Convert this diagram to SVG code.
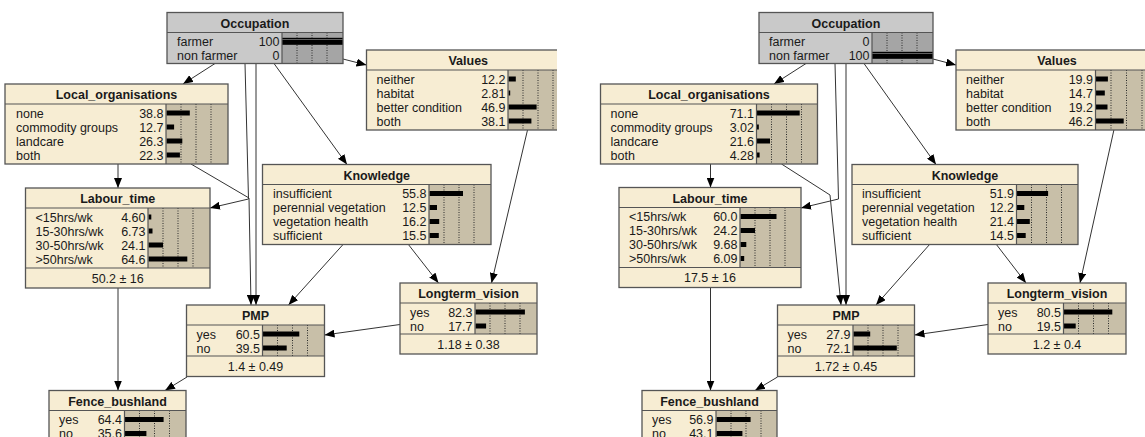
<svg xmlns="http://www.w3.org/2000/svg" width="1145" height="437" viewBox="0 0 1145 437">
<defs>
<style>
.bg{fill:#f7edd3}
.gbg{fill:#c9c9c9}
.bb{fill:#c8bfa8}
.gbb{fill:#a5a5a5}
.grid{stroke:#2a2a2a;stroke-width:1;stroke-dasharray:1 1.5;fill:none}
.bar{fill:#000}
.sep{stroke:#555;stroke-width:1.2;fill:none}
.bd{fill:none;stroke:#555;stroke-width:1.3}
text{font-family:"Liberation Sans",Arial,sans-serif;font-size:12.5px;fill:#1a1a1a}
.t{font-weight:bold;text-anchor:middle}
.n{text-anchor:end}
.m{text-anchor:middle}
.c{fill:none;stroke:#333;stroke-width:1}
</style>
<marker id="arr" viewBox="0 0 10 8" refX="10" refY="4" markerWidth="10" markerHeight="8" markerUnits="userSpaceOnUse" orient="auto"><path d="M0,0L10,4L0,8z" fill="#000"/></marker>
<clipPath id="lclip"><rect x="0" y="0" width="557" height="437"/></clipPath>
</defs>
<rect width="1145" height="437" fill="#fff"/>

<!-- LEFT PANEL connectors -->
<g id="connectors-left" class="c" marker-end="url(#arr)">
<path d="M215,63.5L183,84"/>
<path d="M343,59L366.5,65"/>
<path d="M274,63.5L347,164.5"/>
<path d="M256,63.5L256,305"/>
<path d="M245,63.5L248.5,199L210,208"/>
<path d="M191,164L249,198L251,305"/>
<path d="M118,164L118,188"/>
<path d="M118,288L118,390.5"/>
<path d="M187,377L165,390.5"/>
<path d="M343.5,244L288.5,305"/>
<path d="M408,244L438.5,283"/>
<path d="M527.5,130L491.5,283"/>
<path d="M400,324.5L324.5,335"/>
</g>

<g id="L-occupation" transform="translate(167,12.5)">
<rect class="gbg" width="176" height="51"/>
<rect class="gbb" x="115" y="20" width="61" height="31"/>
<path class="grid" d="M130,20v31M145,20v31M160,20v31"/>
<rect class="bar" x="115" y="25.3" width="61" height="7"/>
<path d="M115,27h61" stroke="#777" stroke-width="0.8"/>
<text class="t" x="88" y="15">Occupation</text>
<text x="10" y="33.5">farmer</text><text class="n" x="112.5" y="33.5">100</text>
<text x="10" y="47.5">non farmer</text><text class="n" x="112.5" y="47.5">0</text>
<path class="sep" d="M0,20H176M115,20V51"/>
<rect class="bd" width="176" height="51"/>
</g>

<g id="L-values" clip-path="url(#lclip)">
<g transform="translate(366.5,50)">
<rect class="bg" width="203.5" height="80"/>
<rect class="bb" x="141.5" y="20" width="62" height="60"/>
<path class="grid" d="M156.5,20v60M171.5,20v60M186.5,20v60"/>
<rect class="bar" x="142" y="26.5" width="7.3" height="5"/>
<rect class="bar" x="142" y="40.5" width="1.7" height="5"/>
<rect class="bar" x="142" y="54.5" width="28.1" height="5"/>
<rect class="bar" x="142" y="68.5" width="22.9" height="5"/>
<text class="t" x="101.75" y="15">Values</text>
<text x="10" y="33.5">neither</text><text class="n" x="139" y="33.5">12.2</text>
<text x="10" y="47.5">habitat</text><text class="n" x="139" y="47.5">2.81</text>
<text x="10" y="61.5">better condition</text><text class="n" x="139" y="61.5">46.9</text>
<text x="10" y="75.5">both</text><text class="n" x="139" y="75.5">38.1</text>
<path class="sep" d="M0,20H203.5M141.5,20V80"/>
<rect class="bd" width="203.5" height="80"/>
</g>
</g>

<g id="L-local" transform="translate(5,84)">
<rect class="bg" width="223" height="80"/>
<rect class="bb" x="161" y="20" width="62" height="60"/>
<path class="grid" d="M176,20v60M191,20v60M206,20v60"/>
<rect class="bar" x="161.5" y="26.5" width="23.3" height="5"/>
<rect class="bar" x="161.5" y="40.5" width="7.6" height="5"/>
<rect class="bar" x="161.5" y="54.5" width="15.8" height="5"/>
<rect class="bar" x="161.5" y="68.5" width="13.4" height="5"/>
<text class="t" x="111.5" y="15">Local_organisations</text>
<text x="11" y="33.5">none</text><text class="n" x="158.5" y="33.5">38.8</text>
<text x="11" y="47.5">commodity groups</text><text class="n" x="158.5" y="47.5">12.7</text>
<text x="11" y="61.5">landcare</text><text class="n" x="158.5" y="61.5">26.3</text>
<text x="11" y="75.5">both</text><text class="n" x="158.5" y="75.5">22.3</text>
<path class="sep" d="M0,20H223M161,20V80"/>
<rect class="bd" width="223" height="80"/>
</g>

<g id="L-labour" transform="translate(25.5,188)">
<rect class="bg" width="184.5" height="100"/>
<rect class="bb" x="122.5" y="20" width="62" height="60"/>
<path class="grid" d="M137.5,20v60M152.5,20v60M167.5,20v60"/>
<rect class="bar" x="123" y="26.5" width="2.8" height="5"/>
<rect class="bar" x="123" y="40.5" width="4" height="5"/>
<rect class="bar" x="123" y="54.5" width="14.5" height="5"/>
<rect class="bar" x="123" y="68.5" width="38.8" height="5"/>
<text class="t" x="92.25" y="15">Labour_time</text>
<text x="10" y="33.5">&lt;15hrs/wk</text><text class="n" x="120" y="33.5">4.60</text>
<text x="10" y="47.5">15-30hrs/wk</text><text class="n" x="120" y="47.5">6.73</text>
<text x="10" y="61.5">30-50hrs/wk</text><text class="n" x="120" y="61.5">24.1</text>
<text x="10" y="75.5">&gt;50hrs/wk</text><text class="n" x="120" y="75.5">64.6</text>
<text class="m" x="92.25" y="94.5">50.2 ± 16</text>
<path class="sep" d="M0,20H184.5M0,80H184.5M122.5,20V80"/>
<rect class="bd" width="184.5" height="100"/>
</g>

<g id="L-knowledge" transform="translate(262.5,164.5)">
<rect class="bg" width="228.5" height="80"/>
<rect class="bb" x="166.5" y="20" width="62" height="60"/>
<path class="grid" d="M181.5,20v60M196.5,20v60M211.5,20v60"/>
<rect class="bar" x="167" y="26.5" width="33.5" height="5"/>
<rect class="bar" x="167" y="40.5" width="7.5" height="5"/>
<rect class="bar" x="167" y="54.5" width="9.7" height="5"/>
<rect class="bar" x="167" y="68.5" width="9.3" height="5"/>
<text class="t" x="114.25" y="15">Knowledge</text>
<text x="10.5" y="33.5">insufficient</text><text class="n" x="164" y="33.5">55.8</text>
<text x="10.5" y="47.5">perennial vegetation</text><text class="n" x="164" y="47.5">12.5</text>
<text x="10.5" y="61.5">vegetation health</text><text class="n" x="164" y="61.5">16.2</text>
<text x="10.5" y="75.5">sufficient</text><text class="n" x="164" y="75.5">15.5</text>
<path class="sep" d="M0,20H228.5M166.5,20V80"/>
<rect class="bd" width="228.5" height="80"/>
</g>

<g id="L-pmp" transform="translate(186.5,305)">
<rect class="bg" width="138" height="71.5"/>
<rect class="bb" x="76" y="20" width="62" height="31"/>
<path class="grid" d="M91,20v31M106,20v31M121,20v31"/>
<rect class="bar" x="76.5" y="26.5" width="36.3" height="5"/>
<rect class="bar" x="76.5" y="40.5" width="23.7" height="5"/>
<text class="t" x="69" y="15">PMP</text>
<text x="10" y="33.5">yes</text><text class="n" x="73.5" y="33.5">60.5</text>
<text x="10" y="47.5">no</text><text class="n" x="73.5" y="47.5">39.5</text>
<text class="m" x="69" y="66">1.4 ± 0.49</text>
<path class="sep" d="M0,20H138M0,51H138M76,20V51"/>
<rect class="bd" width="138" height="71.5"/>
</g>

<g id="L-longterm" transform="translate(400,283)">
<rect class="bg" width="137" height="71"/>
<rect class="bb" x="75" y="20" width="62" height="31"/>
<path class="grid" d="M90,20v31M105,20v31M120,20v31"/>
<rect class="bar" x="75.5" y="26.5" width="49.4" height="5"/>
<rect class="bar" x="75.5" y="40.5" width="10.6" height="5"/>
<text class="t" x="68.5" y="15">Longterm_vision</text>
<text x="10" y="33.5">yes</text><text class="n" x="72.5" y="33.5">82.3</text>
<text x="10" y="47.5">no</text><text class="n" x="72.5" y="47.5">17.7</text>
<text class="m" x="68.5" y="65.5">1.18 ± 0.38</text>
<path class="sep" d="M0,20H137M0,51H137M75,20V51"/>
<rect class="bd" width="137" height="71"/>
</g>

<g id="L-fence" transform="translate(49,390.5)">
<rect class="bg" width="137" height="71"/>
<rect class="bb" x="75.5" y="20" width="61.5" height="31"/>
<path class="grid" d="M90.5,20v31M105.5,20v31M120.5,20v31"/>
<rect class="bar" x="76" y="26.5" width="38.6" height="5"/>
<rect class="bar" x="76" y="40.5" width="21.4" height="5"/>
<text class="t" x="68.5" y="15">Fence_bushland</text>
<text x="10" y="33.5">yes</text><text class="n" x="73" y="33.5">64.4</text>
<text x="10" y="47.5">no</text><text class="n" x="73" y="47.5">35.6</text>
<path class="sep" d="M0,20H137M75.5,20V51"/>
<rect class="bd" width="137" height="71"/>
</g>

<!-- RIGHT PANEL connectors -->
<g id="connectors-right" class="c" marker-end="url(#arr)">
<path d="M806,63.5L774,84"/>
<path d="M933,59L956,65"/>
<path d="M864,63.5L936,164.5"/>
<path d="M846,63.5L846,305"/>
<path d="M835,63.5L838.5,199L801,208"/>
<path d="M781.5,164L830,195L841,305"/>
<path d="M710.5,164L710.5,187.5"/>
<path d="M710.5,287.5L710.5,390.5"/>
<path d="M777.5,377L755,390.5"/>
<path d="M930,244L876,305"/>
<path d="M996,244L1026,283"/>
<path d="M1114,129.5L1080,283"/>
<path d="M988,324.5L914.5,335"/>
</g>

<g id="R-occupation" transform="translate(759,12.5)">
<rect class="gbg" width="174" height="51"/>
<rect class="gbb" x="113" y="20" width="61" height="31"/>
<path class="grid" d="M128,20v31M143,20v31M158,20v31"/>
<rect class="bar" x="113" y="39.3" width="61" height="7"/>
<path d="M113,41h61" stroke="#777" stroke-width="0.8"/>
<text class="t" x="87" y="15">Occupation</text>
<text x="10" y="33.5">farmer</text><text class="n" x="110.5" y="33.5">0</text>
<text x="10" y="47.5">non farmer</text><text class="n" x="110.5" y="47.5">100</text>
<path class="sep" d="M0,20H174M113,20V51"/>
<rect class="bd" width="174" height="51"/>
</g>

<g id="R-values" transform="translate(956,50)">
<rect class="bg" width="202" height="80"/>
<rect class="bb" x="139.5" y="20" width="62.5" height="60"/>
<path class="grid" d="M155,20v60M170.5,20v60M186,20v60"/>
<rect class="bar" x="140" y="26.5" width="11.9" height="5"/>
<rect class="bar" x="140" y="40.5" width="8.8" height="5"/>
<rect class="bar" x="140" y="54.5" width="11.5" height="5"/>
<rect class="bar" x="140" y="68.5" width="27.7" height="5"/>
<text class="t" x="101" y="15">Values</text>
<text x="10" y="33.5">neither</text><text class="n" x="137" y="33.5">19.9</text>
<text x="10" y="47.5">habitat</text><text class="n" x="137" y="47.5">14.7</text>
<text x="10" y="61.5">better condition</text><text class="n" x="137" y="61.5">19.2</text>
<text x="10" y="75.5">both</text><text class="n" x="137" y="75.5">46.2</text>
<path class="sep" d="M0,20H202M139.5,20V80"/>
<rect class="bd" width="202" height="80"/>
</g>

<g id="R-local" transform="translate(600.5,84)">
<rect class="bg" width="217" height="80"/>
<rect class="bb" x="156" y="20" width="61" height="60"/>
<path class="grid" d="M171,20v60M186,20v60M201,20v60"/>
<rect class="bar" x="156.5" y="26.5" width="42.7" height="5"/>
<rect class="bar" x="156.5" y="40.5" width="1.8" height="5"/>
<rect class="bar" x="156.5" y="54.5" width="13" height="5"/>
<rect class="bar" x="156.5" y="68.5" width="2.6" height="5"/>
<text class="t" x="108.5" y="15">Local_organisations</text>
<text x="10" y="33.5">none</text><text class="n" x="153.5" y="33.5">71.1</text>
<text x="10" y="47.5">commodity groups</text><text class="n" x="153.5" y="47.5">3.02</text>
<text x="10" y="61.5">landcare</text><text class="n" x="153.5" y="61.5">21.6</text>
<text x="10" y="75.5">both</text><text class="n" x="153.5" y="75.5">4.28</text>
<path class="sep" d="M0,20H217M156,20V80"/>
<rect class="bd" width="217" height="80"/>
</g>

<g id="R-labour" transform="translate(619,187.5)">
<rect class="bg" width="182" height="100"/>
<rect class="bb" x="121" y="20" width="61" height="60"/>
<path class="grid" d="M136,20v60M151,20v60M166,20v60"/>
<rect class="bar" x="121.5" y="26.5" width="36" height="5"/>
<rect class="bar" x="121.5" y="40.5" width="14.5" height="5"/>
<rect class="bar" x="121.5" y="54.5" width="5.8" height="5"/>
<rect class="bar" x="121.5" y="68.5" width="3.7" height="5"/>
<text class="t" x="91" y="15">Labour_time</text>
<text x="10" y="33.5">&lt;15hrs/wk</text><text class="n" x="118.5" y="33.5">60.0</text>
<text x="10" y="47.5">15-30hrs/wk</text><text class="n" x="118.5" y="47.5">24.2</text>
<text x="10" y="61.5">30-50hrs/wk</text><text class="n" x="118.5" y="61.5">9.68</text>
<text x="10" y="75.5">&gt;50hrs/wk</text><text class="n" x="118.5" y="75.5">6.09</text>
<text class="m" x="91" y="94.5">17.5 ± 16</text>
<path class="sep" d="M0,20H182M0,80H182M121,20V80"/>
<rect class="bd" width="182" height="100"/>
</g>

<g id="R-knowledge" transform="translate(852,164.5)">
<rect class="bg" width="226" height="80"/>
<rect class="bb" x="164.5" y="20" width="61.5" height="60"/>
<path class="grid" d="M179.5,20v60M194.5,20v60M209.5,20v60"/>
<rect class="bar" x="165" y="26.5" width="31.1" height="5"/>
<rect class="bar" x="165" y="40.5" width="7.3" height="5"/>
<rect class="bar" x="165" y="54.5" width="12.8" height="5"/>
<rect class="bar" x="165" y="68.5" width="8.7" height="5"/>
<text class="t" x="113" y="15">Knowledge</text>
<text x="10" y="33.5">insufficient</text><text class="n" x="162" y="33.5">51.9</text>
<text x="10" y="47.5">perennial vegetation</text><text class="n" x="162" y="47.5">12.2</text>
<text x="10" y="61.5">vegetation health</text><text class="n" x="162" y="61.5">21.4</text>
<text x="10" y="75.5">sufficient</text><text class="n" x="162" y="75.5">14.5</text>
<path class="sep" d="M0,20H226M164.5,20V80"/>
<rect class="bd" width="226" height="80"/>
</g>

<g id="R-pmp" transform="translate(777.5,305)">
<rect class="bg" width="137" height="71.5"/>
<rect class="bb" x="75.5" y="20" width="61.5" height="31"/>
<path class="grid" d="M90.5,20v31M105.5,20v31M120.5,20v31"/>
<rect class="bar" x="76" y="26.5" width="16.7" height="5"/>
<rect class="bar" x="76" y="40.5" width="43.3" height="5"/>
<text class="t" x="68.5" y="15">PMP</text>
<text x="10" y="33.5">yes</text><text class="n" x="73" y="33.5">27.9</text>
<text x="10" y="47.5">no</text><text class="n" x="73" y="47.5">72.1</text>
<text class="m" x="68.5" y="66">1.72 ± 0.45</text>
<path class="sep" d="M0,20H137M0,51H137M75.5,20V51"/>
<rect class="bd" width="137" height="71.5"/>
</g>

<g id="R-longterm" transform="translate(988,283)">
<rect class="bg" width="138" height="71"/>
<rect class="bb" x="75.5" y="20" width="62.5" height="31"/>
<path class="grid" d="M90.5,20v31M105.5,20v31M120.5,20v31"/>
<rect class="bar" x="76" y="26.5" width="48.3" height="5"/>
<rect class="bar" x="76" y="40.5" width="11.7" height="5"/>
<text class="t" x="69" y="15">Longterm_vision</text>
<text x="10" y="33.5">yes</text><text class="n" x="73" y="33.5">80.5</text>
<text x="10" y="47.5">no</text><text class="n" x="73" y="47.5">19.5</text>
<text class="m" x="69" y="65.5">1.2 ± 0.4</text>
<path class="sep" d="M0,20H138M0,51H138M75.5,20V51"/>
<rect class="bd" width="138" height="71"/>
</g>

<g id="R-fence" transform="translate(642,390.5)">
<rect class="bg" width="135" height="71"/>
<rect class="bb" x="74" y="20" width="61" height="31"/>
<path class="grid" d="M89,20v31M104,20v31M119,20v31"/>
<rect class="bar" x="74.5" y="26.5" width="34.1" height="5"/>
<rect class="bar" x="74.5" y="40.5" width="25.9" height="5"/>
<text class="t" x="67.5" y="15">Fence_bushland</text>
<text x="10" y="33.5">yes</text><text class="n" x="71.5" y="33.5">56.9</text>
<text x="10" y="47.5">no</text><text class="n" x="71.5" y="47.5">43.1</text>
<path class="sep" d="M0,20H135M74,20V51"/>
<rect class="bd" width="135" height="71"/>
</g>
</svg>
